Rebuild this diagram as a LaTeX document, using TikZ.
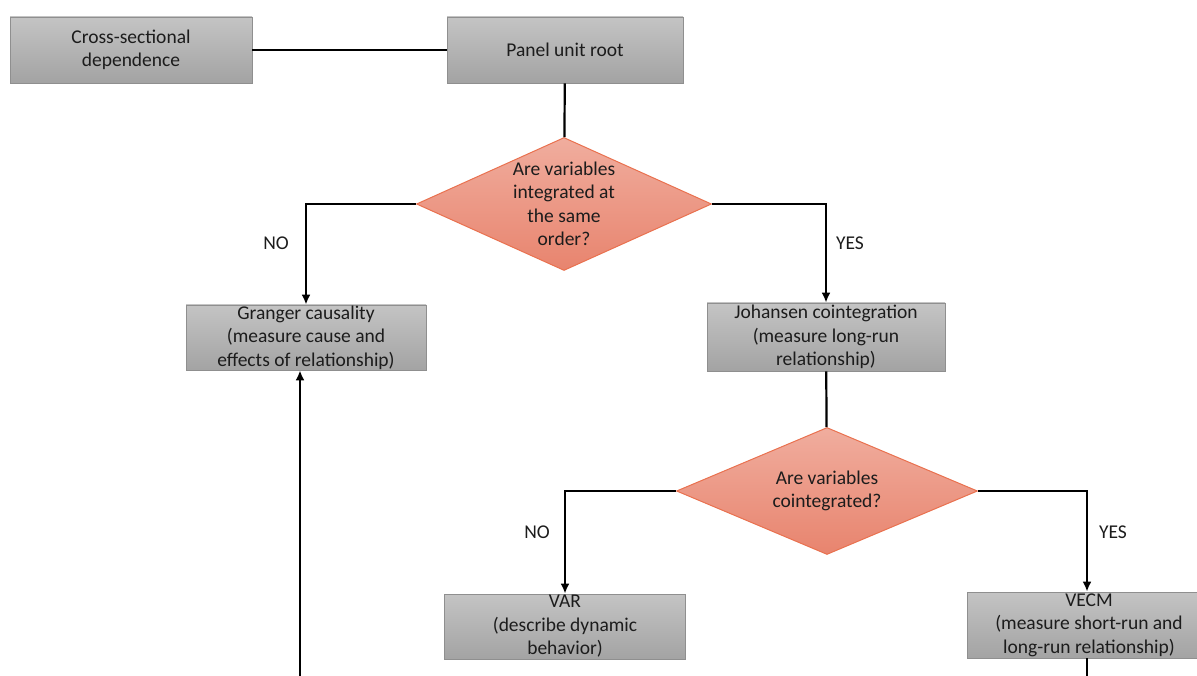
\documentclass[tikz,border=0pt]{standalone}
\usepackage{fontspec}
\setmainfont{Carlito}
\usetikzlibrary{arrows,arrows.meta,shapes.geometric}
\definecolor{boxtop}{HTML}{C4C4C4}
\definecolor{boxbot}{HTML}{A3A3A3}
\definecolor{boxline}{HTML}{8F8F8F}
\definecolor{qtop}{HTML}{F0AD9E}
\definecolor{qbot}{HTML}{E8846E}
\definecolor{qline}{HTML}{E9714F}
\definecolor{txt}{HTML}{1C1C1C}

\begin{document}
\begin{tikzpicture}[x=1pt,y=-1pt,
	every node/.style={font=\fontsize{19.5}{23.5}\selectfont,text=txt},
	box/.style={draw=boxline,line width=0.8pt,top color=boxtop,bottom color=boxbot,inner sep=0pt,align=center},
	ques/.style={diamond,draw=qline,line width=1pt,top color=qtop,bottom color=qbot,inner sep=0pt,minimum width=295pt,minimum height=133pt},
	link/.style={line width=2.2pt,color=black},
	tip/.style={-{Latex[length=10pt,width=9pt]}}]
		\clip (0,0) rectangle (1197,676); % edit here for the page size
		\node[box,minimum width=242pt,minimum height=66pt] (cross) at (131,50) {Cross-sectional\\dependence};
		\node[box,minimum width=236pt,minimum height=66pt] (panel) at (565,50) {Panel unit root};
		\node[ques] (q1) at (564,204) {};
		\node[align=center] (q1text) at (q1) {Are variables\\integrated at\\the same\\order?};
		\node[box,minimum width=240pt,minimum height=65pt] (granger) at (306,337.5) {Granger causality\\(measure cause and\\effects of relationship)};
		\node[box,minimum width=238pt,minimum height=68pt] (johansen) at (826,337) {Johansen cointegration\\(measure long-run\\relationship)};
		\node[ques,minimum width=301pt,minimum height=127pt] (q2) at (827,491) {};
		\node[align=center] (q2text) at (q2) {Are variables\\cointegrated?};
		\node[box,minimum width=241pt,minimum height=65pt] (var) at (565,626.5) {VAR\\(describe dynamic\\behavior)};
		\node[box,minimum width=244pt,minimum height=66pt] (vecm) at (1089,625) {VECM\\(measure short-run and\\long-run relationship)};
		\node (no1) at (276,243) {NO};
		\node (yes1) at (850,243) {YES};
		\node (no2) at (537,532) {NO};
		\node (yes2) at (1113,532) {YES};
		\coordinate (grangerin) at (300,700);
		\coordinate (vecmout) at (1087,700);
		\draw[link] (cross) -- (panel);
		\draw[link] (panel) -- (q1);
		\draw[link,tip] (q1.west) -| (granger.north);
		\draw[link,tip] (q1.east) -| (johansen.north);
		\draw[link] (johansen) -- (q2);
		\draw[link,tip] (q2.west) -| (var.north);
		\draw[link,tip] (q2.east) -| (vecmout |- vecm.north);
		\draw[link] (vecmout |- vecm.south) -- (vecmout);
		\draw[link,tip] (grangerin) -- (grangerin |- granger.south);
		\end{tikzpicture}
\end{document}
